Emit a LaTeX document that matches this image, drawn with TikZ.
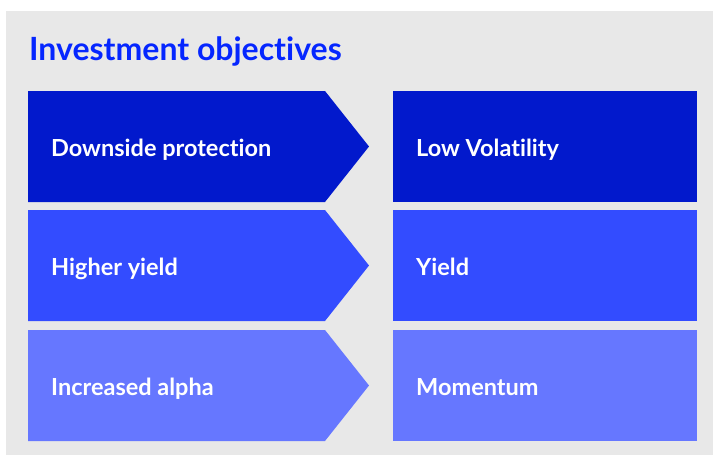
\documentclass[tikz,border=0pt]{standalone}
\usepackage{fontspec}
\setmainfont{Lato}[Ligatures={NoCommon}]
\definecolor{bggray}{RGB}{232,232,232}
\definecolor{titleblue}{RGB}{5,38,255}
\definecolor{rowa}{RGB}{2,25,204}
\definecolor{rowb}{RGB}{51,76,255}
\definecolor{rowc}{RGB}{102,119,255}
\tikzset{
  lbl/.style={anchor=base west, text=white, inner sep=0pt, font=\bfseries\fontsize{23.5}{28}\selectfont},
  ttl/.style={anchor=base west, text=titleblue, inner sep=0pt, font=\bfseries\fontsize{32}{38}\selectfont}
}
\begin{document}
\begin{tikzpicture}[x=1pt,y=-1pt]
\useasboundingbox (0,0) rectangle (713,456);
\fill[bggray] (6,11) rectangle (713,455);
\node[ttl] (title) at (29,60) {Investment objectives};
% row 1
\fill[rowa] (28,91) -- (325,91) -- (369,146.5) -- (325,202) -- (28,202) -- cycle;
\fill[rowa] (393,91) rectangle (697,202);
\node[lbl] (l1) at (51,156) {Downside protection};
\node[lbl] (r1) at (416,156) {Low Volatility};
% row 2
\fill[rowb] (28,210) -- (325,210) -- (369,265.5) -- (325,321) -- (28,321) -- cycle;
\fill[rowb] (393,210) rectangle (697,321);
\node[lbl] (l2) at (51,275) {Higher yield};
\node[lbl] (r2) at (416,275) {Yield};
% row 3
\fill[rowc] (28,330) -- (325,330) -- (369,385.5) -- (325,441) -- (28,441) -- cycle;
\fill[rowc] (393,330) rectangle (697,441);
\node[lbl] (l3) at (51,395) {Increased alpha};
\node[lbl] (r3) at (416,395) {Momentum};
\end{tikzpicture}
\end{document}
